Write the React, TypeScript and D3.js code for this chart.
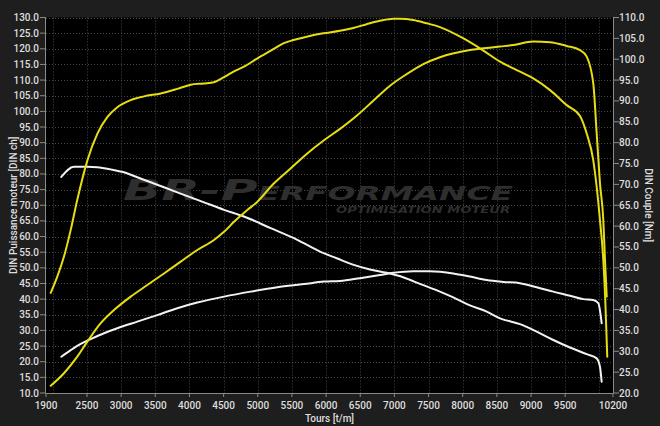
import React from "react";
import * as d3 from "d3";

// ---- Data ----
// Tuned power (yellow) – left axis [DIN ch]
const yPowerRpm = [1969, 2163, 2358, 2505, 2701, 2895, 3140, 3383, 3627, 3872, 4115, 4359, 4506, 4652, 4847, 4984, 5227, 5472, 5716, 5959, 6204, 6448, 6691, 6936, 7180, 7423, 7667, 8106, 8546, 8741, 9033, 9278, 9522, 9717, 9815, 9911, 9961, 10009, 10058, 10083, 10108];
const yPowerVal = [12.3, 16.3, 21.6, 26.4, 32.3, 36.5, 40.8, 44.5, 48.2, 52.0, 55.7, 58.9, 61.5, 64.7, 68.5, 70.9, 76.8, 81.6, 86.4, 90.6, 94.4, 98.6, 103.4, 108.2, 111.9, 115.1, 117.3, 119.6, 120.7, 121.2, 122.3, 122.1, 120.9, 119.6, 117.5, 109.0, 93.0, 77.1, 65.3, 52.5, 40.8];

// Tuned torque (yellow) – right axis [Nm]
const yTorqueRpm = [1969, 2065, 2163, 2262, 2358, 2505, 2651, 2797, 2944, 3140, 3335, 3579, 3822, 4018, 4213, 4359, 4506, 4652, 4798, 4984, 5227, 5374, 5520, 5716, 5959, 6204, 6398, 6594, 6789, 6984, 7082, 7277, 7473, 7667, 7998, 8291, 8546, 8790, 9033, 9278, 9522, 9717, 9815, 9911, 9961, 10009, 10058, 10087, 10116];
const yTorqueVal = [44.0, 47.9, 52.7, 59.1, 66.3, 75.7, 82.1, 86.1, 88.5, 90.2, 91.1, 91.8, 92.9, 93.9, 94.2, 94.5, 95.7, 97.1, 98.2, 100.1, 102.4, 103.8, 104.6, 105.4, 106.2, 106.8, 107.5, 108.4, 109.2, 109.7, 109.7, 109.4, 108.6, 107.7, 105.1, 102.2, 99.4, 97.4, 95.4, 92.6, 89.0, 86.4, 82.2, 75.8, 69.4, 61.5, 51.9, 42.3, 28.7];

// Stock torque (white) – right axis [Nm]
const wTorqueRpm = [2124, 2310, 2505, 2651, 2847, 3042, 3236, 3433, 3627, 3822, 4018, 4213, 4506, 4798, 5189, 5579, 5911, 6155, 6405, 6643, 6888, 7137, 7383, 7623, 7862, 8106, 8351, 8546, 8838, 9083, 9326, 9570, 9815, 9961, 10009, 10034];
const wTorqueVal = [71.8, 74.2, 74.2, 74.1, 73.6, 72.9, 71.7, 70.5, 69.3, 68.1, 66.9, 65.7, 63.9, 62.3, 59.5, 56.7, 53.9, 52.3, 50.7, 49.6, 48.8, 47.7, 46.1, 44.6, 42.9, 41.0, 39.5, 37.9, 36.5, 34.7, 32.7, 30.9, 29.3, 28.3, 26.3, 22.7];

// Stock power (white) – left axis [DIN ch]
const wPowerRpm = [2124, 2262, 2408, 2554, 2749, 2944, 3236, 3529, 3822, 4115, 4506, 4896, 5286, 5677, 5969, 6204, 6496, 6789, 6984, 7277, 7521, 7862, 8106, 8351, 8594, 8838, 9083, 9326, 9570, 9765, 9911, 9985, 10034];
const wPowerVal = [21.6, 23.7, 25.7, 27.2, 29.1, 30.7, 32.8, 34.9, 37.1, 38.9, 40.8, 42.4, 43.8, 44.8, 45.6, 45.8, 46.7, 47.7, 48.4, 48.9, 48.9, 48.2, 47.2, 46.1, 45.5, 45.1, 43.8, 42.4, 41.1, 40.0, 39.7, 38.7, 32.3];

const xTickLabels = [1900, 2500, 3000, 3500, 4000, 4500, 5000, 5500, 6000, 6500, 7000, 7500, 8000, 8500, 9000, 9500, 10200];
const xGridValues = d3.range(2000, 10001, 500);
const leftTicks = d3.range(10, 130.01, 5);
const rightTicks = d3.range(20, 110.01, 5);

const W = 660;
const H = 426;
const M = { left: 46, right: 47, top: 17.5, bottom: 33 };

const FONT = "Roboto, 'DejaVu Sans', sans-serif";
const TXT = "#dedede";

export default function App() {
  const x = d3.scaleLinear().domain([1900, 10200]).range([M.left, W - M.right]);
  const yL = d3.scaleLinear().domain([10, 130]).range([H - M.bottom, M.top]);
  const yR = d3.scaleLinear().domain([20, 110]).range([H - M.bottom, M.top]);

  const mk = (rpm: number[], val: number[], ys: d3.ScaleLinear<number, number>) =>
    d3
      .line<number>()
      .x((_, i) => x(rpm[i]))
      .y((v) => ys(v))
      .curve(d3.curveMonotoneX)(val) as string;

  const plotL = M.left;
  const plotR = W - M.right;
  const plotT = M.top;
  const plotB = H - M.bottom;

  return (
    <svg
      width={W}
      height={H}
      style={{ position: "absolute", left: 0, top: 0, display: "block" }}
      fontFamily={FONT}
    >
      <rect x={0} y={0} width={W} height={H} fill="#1e1e1e" />
      <rect x={plotL} y={plotT} width={plotR - plotL} height={plotB - plotT} fill="#000" />

      {/* grid */}
      <g stroke="#4a4a4a" strokeWidth={1} strokeDasharray="1,2">
        {xGridValues.map((v) => (
          <line key={"gx" + v} x1={Math.round(x(v)) + 0.5} x2={Math.round(x(v)) + 0.5} y1={plotT} y2={plotB} />
        ))}
        {leftTicks.slice(1).map((v) => (
          <line key={"gy" + v} x1={plotL} x2={plotR} y1={Math.round(yL(v)) + 0.5} y2={Math.round(yL(v)) + 0.5} />
        ))}
      </g>

      {/* watermark */}
      <g fontFamily="'DejaVu Sans', sans-serif" fontStyle="italic" fontWeight="bold" fill="#2e2e2e">
        <text x={123} y={200} textLength={390} lengthAdjust="spacingAndGlyphs">
          <tspan fontSize={29}>BR-P</tspan>
          <tspan fontSize={19}>ERFORMANCE</tspan>
        </text>
        <text x={336} y={213} fontSize={8.5} textLength={174} lengthAdjust="spacingAndGlyphs">
          OPTIMISATION MOTEUR
        </text>
      </g>

      {/* axes lines */}
      <g stroke="#8a8a8a" strokeWidth={1}>
        <line x1={plotL - 0.5} x2={plotL - 0.5} y1={plotT} y2={plotB} />
        <line x1={plotR + 0.5} x2={plotR + 0.5} y1={plotT} y2={plotB} />
        <line x1={plotL} x2={plotR} y1={plotB + 0.5} y2={plotB + 0.5} />
      </g>

      {/* left axis */}
      <g fontSize={10} fontWeight={500} fill={TXT} textAnchor="end">
        {leftTicks.map((v) => (
          <g key={"l" + v}>
            <line x1={plotL - 6} x2={plotL} y1={yL(v)} y2={yL(v)} stroke="#8a8a8a" />
            <text x={plotL - 7} y={yL(v)} dy="0.35em">
              {v.toFixed(1)}
            </text>
          </g>
        ))}
      </g>

      {/* right axis */}
      <g fontSize={10} fontWeight={500} fill={TXT} textAnchor="start">
        {rightTicks.map((v) => (
          <g key={"r" + v}>
            <line x1={plotR} x2={plotR + 6} y1={yR(v)} y2={yR(v)} stroke="#8a8a8a" />
            <text x={plotR + 6} y={yR(v)} dy="0.35em">
              {v.toFixed(1)}
            </text>
          </g>
        ))}
      </g>

      {/* bottom axis */}
      <g fontSize={10} fontWeight={500} fill={TXT} textAnchor="middle">
        {xTickLabels.map((v) => (
          <g key={"x" + v}>
            <line x1={x(v)} x2={x(v)} y1={plotB} y2={plotB + 4} stroke="#8a8a8a" />
            <text x={x(v)} y={plotB + 16}>
              {v}
            </text>
          </g>
        ))}
      </g>

      {/* axis titles */}
      <text x={(plotL + plotR) / 2} y={422} fontSize={10} fontWeight={500} fill={TXT} textAnchor="middle">
        Tours [t/m]
      </text>
      <text
        transform={`translate(13, ${(plotT + plotB) / 2}) rotate(-90)`}
        fontSize={10}
        fontWeight={500}
        fill={TXT}
        textAnchor="middle"
        dy="0.35em"
      >
        DIN Puissance moteur [DIN ch]
      </text>
      <text
        transform={`translate(648, ${(plotT + plotB) / 2}) rotate(90)`}
        fontSize={10}
        fontWeight={500}
        fill={TXT}
        textAnchor="middle"
        dy="0.35em"
      >
        DIN Couple [Nm]
      </text>

      {/* curves */}
      <g fill="none" strokeWidth={2} strokeLinejoin="round" strokeLinecap="round">
        <path d={mk(wTorqueRpm, wTorqueVal, yR)} stroke="#f2f2f2" />
        <path d={mk(wPowerRpm, wPowerVal, yL)} stroke="#f2f2f2" />
        <path d={mk(yTorqueRpm, yTorqueVal, yR)} stroke="#e6de12" />
        <path d={mk(yPowerRpm, yPowerVal, yL)} stroke="#e6de12" />
      </g>
    </svg>
  );
}
